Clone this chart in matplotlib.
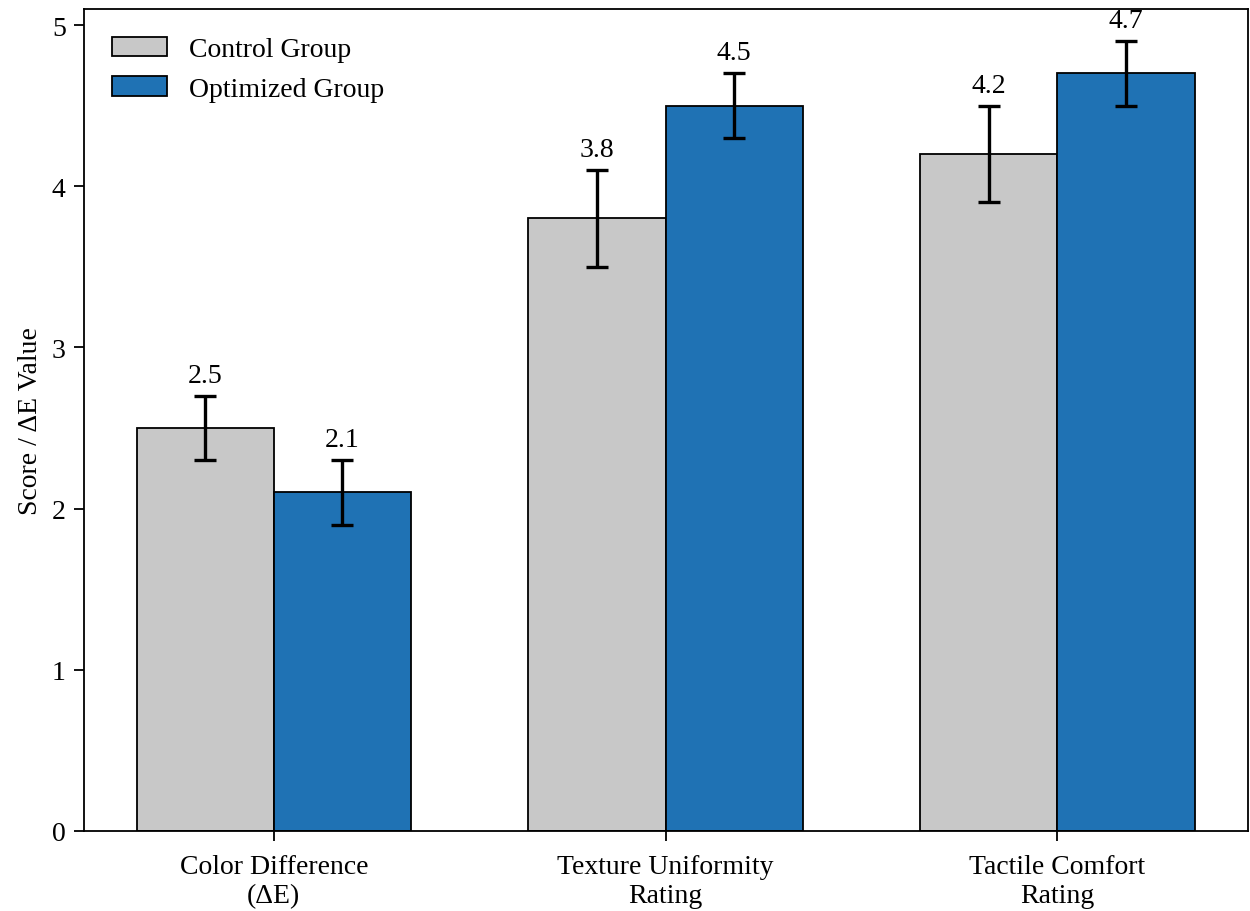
import numpy as np
import matplotlib.pyplot as plt

plt.rcParams['font.family'] = ['Liberation Serif', 'DejaVu Serif']

categories = ['Color Difference\n(ΔE)', 'Texture Uniformity\nRating', 'Tactile Comfort\nRating']
control = [2.5, 3.8, 4.2]
control_err = [0.2, 0.3, 0.3]
optimized = [2.1, 4.5, 4.7]
optimized_err = [0.2, 0.2, 0.2]

x = np.arange(len(categories))
w = 0.35
fs = 20

fig, ax = plt.subplots(figsize=(12.5, 9.12), dpi=100)
ax.bar(x - w/2, control, w, yerr=control_err, capsize=8, color='#c8c8c8',
       edgecolor='black', linewidth=1.3, error_kw=dict(elinewidth=2.4, capthick=2.4),
       label='Control Group')
ax.bar(x + w/2, optimized, w, yerr=optimized_err, capsize=8, color='#1f72b4',
       edgecolor='black', linewidth=1.3, error_kw=dict(elinewidth=2.4, capthick=2.4),
       label='Optimized Group')

# value labels above the error bars
for xi, v, e in zip(x - w/2, control, control_err):
    ax.text(xi, v + e + 0.05, f'{v}', ha='center', va='bottom', fontsize=fs)
for xi, v, e in zip(x + w/2, optimized, optimized_err):
    ax.text(xi, v + e + 0.05, f'{v}', ha='center', va='bottom', fontsize=fs)

ax.set_xticks(x)
ax.set_xticklabels(categories, fontsize=fs, linespacing=1.2)
ax.tick_params(axis='both', labelsize=fs, length=7, width=1.3, pad=6)
ax.tick_params(axis='x', pad=10)
ax.set_ylabel('Score / ΔE Value', fontsize=fs, labelpad=6)
ax.set_ylim(0, 5.1)
for s in ax.spines.values():
    s.set_linewidth(1.3)
ax.legend(loc='upper left', frameon=False, fontsize=fs, borderaxespad=0.6)

plt.subplots_adjust(left=0.067, right=0.998, top=0.989, bottom=0.088)
plt.savefig('out.png')
